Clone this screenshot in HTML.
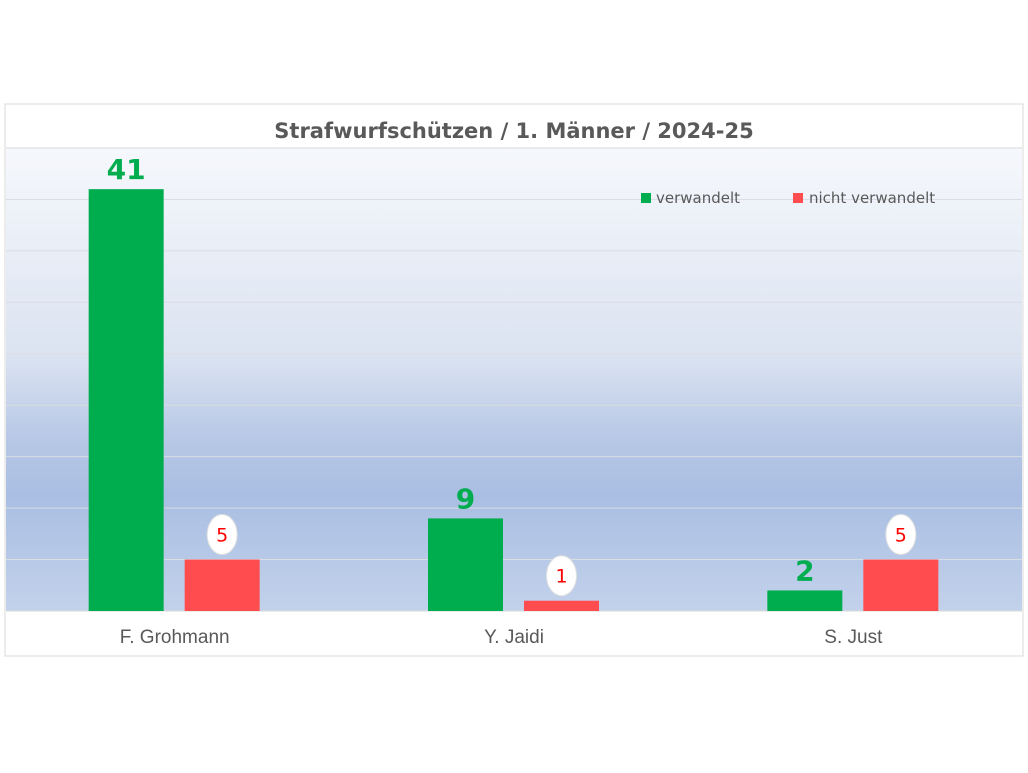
<!DOCTYPE html>
<html><head><meta charset="utf-8"><style>
body{margin:0;background:#fff;width:1028px;height:768px;overflow:hidden;font-family:"Liberation Sans","DejaVu Sans",sans-serif}
</style></head><body>
<svg width="1028" height="768" xmlns="http://www.w3.org/2000/svg">
<defs>
<linearGradient id="bg" x1="0" y1="0" x2="0" y2="1">
<stop offset="0" stop-color="#f6f8fc"/>
<stop offset="0.45" stop-color="#dbe3f1"/>
<stop offset="0.62" stop-color="#b9c9e6"/>
<stop offset="0.75" stop-color="#a9bee3"/>
<stop offset="1" stop-color="#c3d2eb"/>
</linearGradient>
</defs>
<rect x="5" y="104" width="1018" height="552" fill="#fff" stroke="#d9d9d9"/>
<rect x="6" y="147" width="1016" height="464" fill="url(#bg)"/>
<text x="514" y="138" text-anchor="middle" font-size="21" font-weight="bold" fill="#595959" font-family="DejaVu Sans, sans-serif">Strafwurfschützen / 1. Männer / 2024-25</text>
<g id="grid"></g>
<g id="bars"></g>
<g id="labels"></g>
<g>
<rect x="641" y="193" width="10" height="10" fill="#00ad4e"/>
<text x="656" y="203" font-size="15" fill="#595959" font-family="DejaVu Sans, sans-serif">verwandelt</text>
<rect x="793" y="193" width="10" height="10" fill="#ff4d4f"/>
<text x="809" y="203" font-size="15" fill="#595959" font-family="DejaVu Sans, sans-serif">nicht verwandelt</text>
</g>
</svg>
<script>
const categories = ["F. Grohmann", "Y. Jaidi", "S. Just"];
const madeValues = [41, 9, 2];
const missedValues = [5, 1, 5];
const gridTicks = [5, 10, 15, 20, 25, 30, 35, 40, 45];

const NS = "http://www.w3.org/2000/svg";
const plotL = 5, plotR = 1023, base = 611, plotTop = 148, yMax = 45;
const yScale = v => base - (v / yMax) * (base - plotTop);
const catW = (plotR - plotL) / categories.length;
const cx = i => plotL + catW * (i + 0.5);
function mk(tag, attrs) { const e = document.createElementNS(NS, tag); for (const k in attrs) e.setAttribute(k, attrs[k]); return e; }
const gridG = document.getElementById('grid'), barsG = document.getElementById('bars'), labelsG = document.getElementById('labels');
gridTicks.forEach(t => {
  const l = mk('line', {x1: 6, x2: 1022, y1: yScale(t), y2: yScale(t), stroke: '#d9dde5', 'stroke-width': 1});
  
  
  gridG.appendChild(l);
});
const bl = mk('line', {x1: 6, x2: 1022, y1: base, y2: base, stroke: '#d9d9d9'});


gridG.appendChild(bl);
const bw = 75;
categories.forEach((c, i) => {
  const gx = cx(i) - 86, rx = cx(i) + 10;
  const g = mk('rect', {x: gx, y: yScale(madeValues[i]), width: bw, height: base - yScale(madeValues[i]), fill: '#00ad4e'});
  
  
  barsG.appendChild(g);
  const r = mk('rect', {x: rx, y: yScale(missedValues[i]), width: bw, height: base - yScale(missedValues[i]), fill: '#ff4d4f'});
  
  
  barsG.appendChild(r);
  const gt = mk('text', {x: gx + bw / 2, y: yScale(madeValues[i]) - 10, 'text-anchor': 'middle', 'font-size': 28, 'font-weight': 'bold', fill: '#00ad4e', 'font-family': 'DejaVu Sans, sans-serif'});
  gt.textContent = madeValues[i];
  
  
  labelsG.appendChild(gt);
  const ey = yScale(missedValues[i]) - 25;
  const el = mk('ellipse', {cx: rx + bw / 2, cy: ey, rx: 15, ry: 20, fill: '#fff', stroke: '#e0e0e0'});
  
  
  labelsG.appendChild(el);
  const rt = mk('text', {x: rx + bw / 2, y: ey + 7, 'text-anchor': 'middle', 'font-size': 19, fill: '#ff0000', 'font-family': 'DejaVu Sans, sans-serif'});
  rt.textContent = missedValues[i];
  
  
  labelsG.appendChild(rt);
  const ct = mk('text', {x: cx(i), y: 643, 'text-anchor': 'middle', 'font-size': 19, fill: '#595959'});
  ct.textContent = c;
  
  
  labelsG.appendChild(ct);
});
</script>
</body></html>
